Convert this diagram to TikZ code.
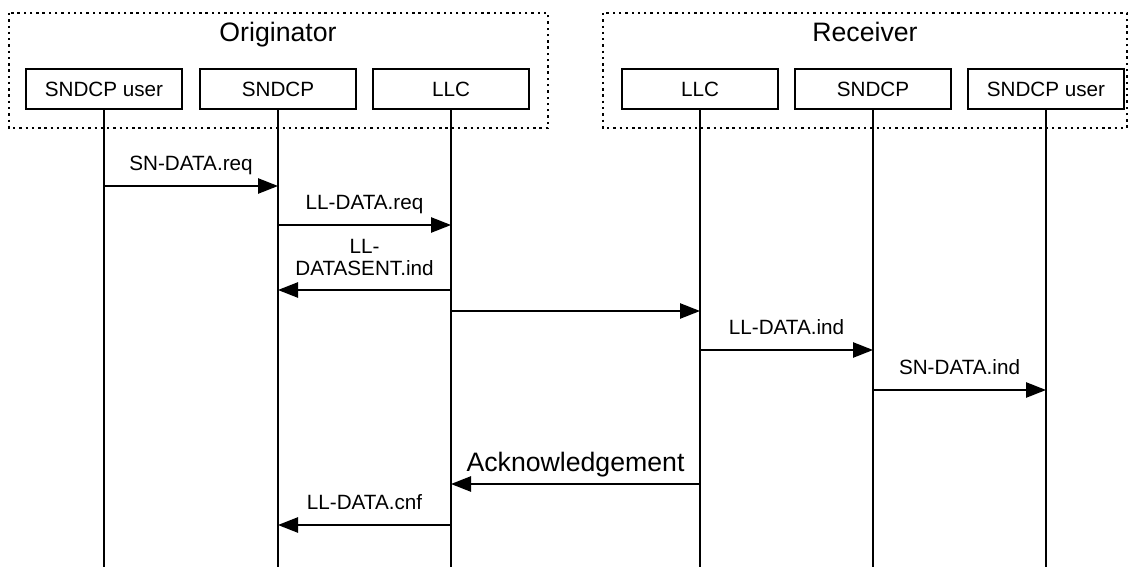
\documentclass[tikz,border=0pt]{standalone}
\usepackage{fontspec}
\setmainfont{Liberation Sans}
\usetikzlibrary{arrows.meta}

\begin{document}
\begin{tikzpicture}[x=0.75pt,y=-0.75pt,
  ent/.style={draw,line width=1.1pt,minimum width=117pt,minimum height=30pt,inner sep=0pt,font=\fontsize{15.5}{18}\selectfont},
  grp/.style={draw,line width=1.5pt,dash pattern=on 1.8pt off 2.9pt},
  life/.style={line width=0.8pt},
  msg/.style={line width=1.1pt,-{Triangle[length=15pt,width=11.5pt]}},
  lbl/.style={font=\fontsize{15.5}{16.5}\selectfont,anchor=base,yshift=11.7pt,inner sep=0pt},
  big/.style={font=\fontsize{20}{24}\selectfont,anchor=base,inner sep=0pt}]
\useasboundingbox (0,0) rectangle (1135,567);

\draw[grp] (9,13) rectangle (548,128);
\draw[grp] (603,13) rectangle (1127,128);
\node[big] (orig) at (278,42) {Originator};
\node[big] (recv) at (865,42) {Receiver};

\node[ent] (usrA) at (104,89) {SNDCP user};
\node[ent] (sndA) at (278,89) {SNDCP};
\node[ent] (llcA) at (451,89) {LLC};
\node[ent] (llcB) at (700,89) {LLC};
\node[ent] (sndB) at (873,89) {SNDCP};
\node[ent] (usrB) at (1046,89) {SNDCP user};

\coordinate (bottom) at (0,567);
\foreach \n in {usrA,sndA,llcA,llcB,sndB,usrB}
  \draw[life] (\n.south) -- (\n |- bottom);

\coordinate (t1) at (0,186);
\coordinate (t2) at (0,225);
\coordinate (t3) at (0,290);
\coordinate (t4) at (0,311);
\coordinate (t5) at (0,350);
\coordinate (t6) at (0,390);
\coordinate (t7) at (0,484);
\coordinate (t8) at (0,525);

\draw[msg] (usrA |- t1) -- node[lbl] {SN-DATA.req} (sndA |- t1);
\draw[msg] (sndA |- t2) -- node[lbl] {LL-DATA.req} (llcA |- t2);
\draw[msg] (llcA |- t3) -- node[lbl,align=center,anchor=south,yshift=-1.5pt] {LL-\\DATASENT.ind} (sndA |- t3);
\draw[msg] (llcA |- t4) -- (llcB |- t4);
\draw[msg] (llcB |- t5) -- node[lbl] {LL-DATA.ind} (sndB |- t5);
\draw[msg] (sndB |- t6) -- node[lbl] {SN-DATA.ind} (usrB |- t6);
\draw[msg] (llcB |- t7) -- node[big,yshift=9.4pt] {Acknowledgement} (llcA |- t7);
\draw[msg] (llcA |- t8) -- node[lbl] {LL-DATA.cnf} (sndA |- t8);
\end{tikzpicture}
\end{document}
